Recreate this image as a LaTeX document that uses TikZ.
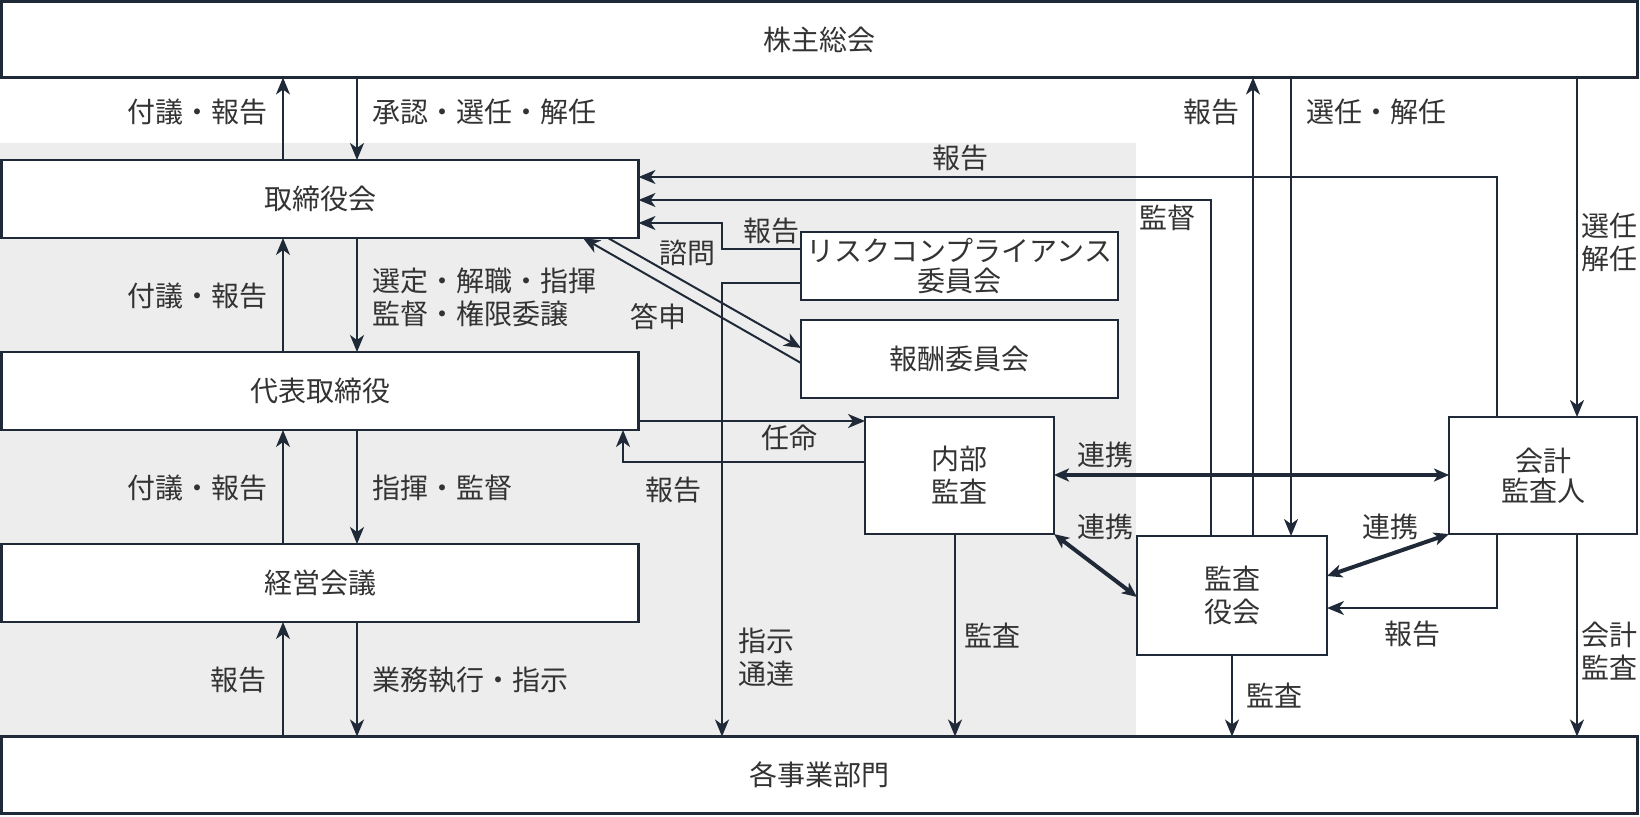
\documentclass[tikz,border=0pt]{standalone}
\usepackage{fontspec}
\setmainfont{Noto Sans CJK JP}
\usetikzlibrary{arrows.meta,calc}
\definecolor{ln}{HTML}{1F2937}
\definecolor{tx}{HTML}{333333}
\definecolor{bgc}{HTML}{EDEDED}
\begin{document}
\begin{tikzpicture}[x=1pt,y=-1pt,
  font=\fontsize{28}{33}\selectfont,
  box/.style={draw=ln, line width=2.5pt, fill=white, rectangle, inner sep=0pt, outer sep=0pt, text=tx, align=center},
  arr/.style={draw=ln, line width=2pt, -{Stealth[length=17pt,width=14pt,inset=5pt]}},
  dbl/.style={draw=ln, line width=4pt, {Stealth[length=15pt,width=13pt,inset=4pt]}-{Stealth[length=15pt,width=13pt,inset=4pt]}},
  lbl/.style={text=tx, inner sep=0pt, align=center}]
\useasboundingbox (0,0) rectangle (1640,816);
\fill[bgc] (0,143) rectangle (1136,735);

% boxes
\node[box, minimum width=1636pt, minimum height=76pt] (sh) at (819.5,39.5) {株主総会};
\node[box, minimum width=637pt, minimum height=78pt] (tb) at (320,199) {取締役会};
\node[box, minimum width=637pt, minimum height=78pt] (dh) at (320,391) {代表取締役};
\node[box, minimum width=637pt, minimum height=78pt] (kk) at (320,583) {経営会議};
\node[box, minimum width=1636pt, minimum height=77pt] (jb) at (819.5,775) {各事業部門};
\node[box, minimum width=317pt, minimum height=68pt] (risk) at (959.5,266) {リスクコンプライアンス\\[-3pt]委員会};
\node[box, minimum width=317pt, minimum height=78pt] (hoshu) at (959.5,359) {報酬委員会};
\node[box, minimum width=189pt, minimum height=117pt] (nb) at (959.5,475.5) {内部\\監査};
\node[box, minimum width=190pt, minimum height=119pt] (ka) at (1232,595.5) {監査\\役会};
\node[box, minimum width=188pt, minimum height=117pt] (kj) at (1543,475.5) {会計\\[-3pt]監査人};

% left column
\draw[arr] (283,0 |- tb.north) -- (283,0 |- sh.south);
\draw[arr] (357,0 |- sh.south) -- (357,0 |- tb.north);
\draw[arr] (283,0 |- dh.north) -- (283,0 |- tb.south);
\draw[arr] (357,0 |- tb.south) -- (357,0 |- dh.north);
\draw[arr] (283,0 |- kk.north) -- (283,0 |- dh.south);
\draw[arr] (357,0 |- dh.south) -- (357,0 |- kk.north);
\draw[arr] (283,0 |- jb.north) -- (283,0 |- kk.south);
\draw[arr] (357,0 |- kk.south) -- (357,0 |- jb.north);

% into 取締役会
\draw[arr] (1497,0 |- kj.north) |- (tb.east |- 0,177);
\draw[arr] (1211,0 |- ka.north) |- (tb.east |- 0,200);
\draw[arr] (risk.west |- 0,249) -- (722,249) -- (722,223) -- (tb.east |- 0,223);
\draw[arr] (608,0 |- tb.south) -- (hoshu.west |- 0,348);
\draw[arr] (hoshu.west |- 0,363) -- (583,0 |- tb.south);
\draw[arr] (risk.west |- 0,283) -| (722,0 |- jb.north);

% 代表取締役 <-> 内部監査
\draw[arr] (dh.east |- 0,421) -- (nb.west |- 0,421);
\draw[arr] (nb.west |- 0,462) -| (623,0 |- dh.south);

% 連携
\draw[dbl] (nb.east |- 0,475) -- (kj.west |- 0,475);
\draw[dbl] (nb.south east) -- (ka.west |- 0,597);
\draw[dbl] (ka.east |- 0,576) -- (kj.south west);

% right side
\draw[arr] (1497,0 |- kj.south) |- (ka.east |- 0,608);
\draw[arr] (955,0 |- nb.south) -- (955,0 |- jb.north);
\draw[arr] (ka.south) -- (ka.south |- jb.north);
\draw[arr] (1577,0 |- kj.south) -- (1577,0 |- jb.north);
\draw[arr] (1253,0 |- ka.north) -- (1253,0 |- sh.south);
\draw[arr] (1291,0 |- sh.south) -- (1291,0 |- ka.north);
\draw[arr] (1577,0 |- sh.south) -- (1577,0 |- kj.north);

% labels
\node[lbl] (l1) at (197,112) {付議・報告};
\node[lbl, anchor=west] (l2) at (372,112) {承認・選任・解任};
\node[lbl] (l3) at (197,296) {付議・報告};
\node[lbl, anchor=west, align=left] (l4) at (372,297) {選定・解職・指揮\\監督・権限委譲};
\node[lbl] (l5) at (197,488) {付議・報告};
\node[lbl, anchor=west] (l6) at (372,488) {指揮・監督};
\node[lbl] (l7) at (238,680) {報告};
\node[lbl, anchor=west] (l8) at (372,680) {業務執行・指示};
\node[lbl] (l9) at (960,158) {報告};
\node[lbl] (l10) at (1167,218) {監督};
\node[lbl] (l11) at (771,231) {報告};
\node[lbl] (l12) at (687,253) {諮問};
\node[lbl] (l13) at (658,317) {答申};
\node[lbl] (l14) at (789,438) {任命};
\node[lbl] (l15) at (673,490) {報告};
\node[lbl] (l16) at (766,657) {指示\\通達};
\node[lbl] (l17) at (1105,455) {連携};
\node[lbl] (l18) at (1105,527) {連携};
\node[lbl] (l19) at (1390,527) {連携};
\node[lbl] (l20) at (1412,634) {報告};
\node[lbl] (l21) at (992,636) {監査};
\node[lbl] (l22) at (1274,696) {監査};
\node[lbl] (l23) at (1609,651) {会計\\監査};
\node[lbl] (l24) at (1211,112) {報告};
\node[lbl, anchor=west] (l25) at (1306,112) {選任・解任};
\node[lbl] (l26) at (1609,242) {選任\\解任};
\end{tikzpicture}
\end{document}
